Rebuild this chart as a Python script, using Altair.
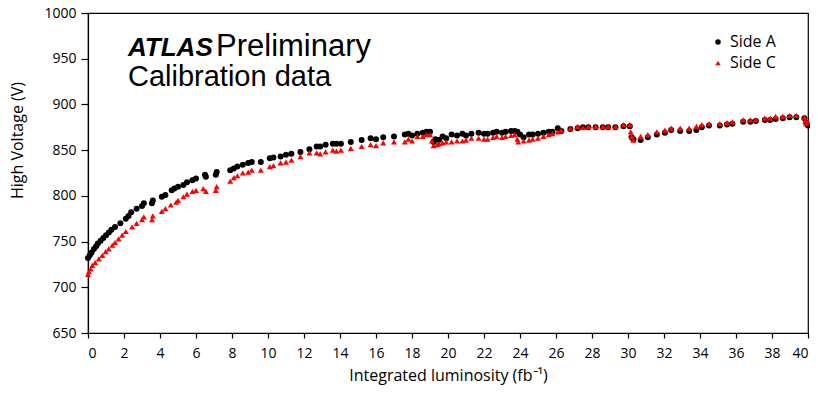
import altair as alt
import pandas as pd

# Side A (black circles)
a_x = [0.0, 0.1, 0.2, 0.33, 0.45, 0.55, 0.7, 0.85, 1.0, 1.16, 1.3, 1.5, 1.8, 2.1, 2.25, 2.4, 2.7, 3.0, 3.1, 3.55,
       3.6, 4.1, 4.3, 4.65, 4.8, 5.0, 5.3, 5.5, 5.8, 6.0, 6.5, 6.55, 7.1, 7.15, 7.9, 8.1, 8.3, 8.6, 8.9, 9.1,
       9.6, 10.1, 10.3, 10.7, 11.0, 11.3, 11.8, 12.3, 12.7, 12.9, 13.2, 13.6, 13.8, 14.05, 14.6, 15.2, 15.7, 16.0, 16.4, 17.0,
       17.6, 17.8, 18.0, 18.3, 18.6, 18.8, 19.0, 19.2, 19.3, 19.5, 19.7, 19.9, 20.2, 20.5, 20.8, 21.0, 21.3, 21.7, 22.0, 22.2,
       22.5, 22.7, 23.0, 23.2, 23.5, 23.7, 23.85, 24.0, 24.2, 24.5, 24.7, 25.0, 25.3, 25.6, 25.8, 26.1, 26.3, 26.8, 27.2, 27.5,
       27.8, 28.2, 28.6, 28.9, 29.3, 29.75, 30.1, 30.2, 30.3, 30.7, 31.1, 31.6, 32.05, 32.4, 32.9, 33.4, 33.8, 34.1, 34.5, 35.1,
       35.5, 35.8, 36.4, 36.8, 37.1, 37.6, 37.9, 38.2, 38.6, 38.98, 39.35, 39.8, 39.9, 40.0]
a_y = [732, 735, 738, 742, 745, 748, 751, 754, 757, 760, 763, 766, 770, 775, 778, 782, 786, 789, 792, 792,
       795, 799, 801, 806, 808, 810, 812, 815, 817, 819, 823, 821, 823, 826, 828, 830, 832, 834, 836, 837,
       837, 841, 842, 843, 845, 846, 848, 851, 854, 854, 856, 857, 857, 857, 859, 861, 863, 862, 864, 865,
       867, 868, 866, 868, 869, 870, 870, 859, 862, 861, 865, 863, 867, 866, 868, 866, 868, 869, 868, 868,
       869, 870, 869, 870, 871, 871, 870, 867, 864, 867, 867, 868, 869, 870, 870, 874, 871, 873, 874, 875,
       875, 875, 875, 875, 875, 876, 876, 864, 862, 861, 864, 867, 869, 872, 871, 871, 872, 875, 877, 877,
       878, 879, 881, 881, 882, 883, 883, 884, 885, 886, 886, 885, 880, 877]

# Side C (red triangles)
c_x = [0.0, 0.05, 0.15, 0.24, 0.4, 0.6, 0.8, 0.98, 1.15, 1.35, 1.5, 1.7, 1.9, 2.1, 2.45, 2.7, 3.0, 3.1, 3.56, 3.6,
       4.1, 4.3, 4.6, 4.9, 5.0, 5.3, 5.5, 5.8, 6.0, 6.4, 6.55, 7.1, 7.15, 7.9, 8.1, 8.3, 8.6, 8.9, 9.1, 9.6,
       10.1, 10.3, 10.7, 11.0, 11.3, 11.8, 12.3, 12.7, 12.9, 13.2, 13.6, 13.8, 14.05, 14.6, 15.2, 15.7, 16.0, 16.4, 17.0, 17.6,
       17.8, 18.0, 18.3, 18.6, 18.8, 19.0, 19.1, 19.2, 19.4, 19.5, 19.7, 19.9, 20.2, 20.5, 20.8, 21.0, 21.3, 21.7, 22.0, 22.2,
       22.5, 22.7, 23.0, 23.2, 23.5, 23.7, 23.85, 23.9, 24.2, 24.5, 24.7, 25.0, 25.3, 25.6, 25.8, 26.1, 26.3, 26.8, 27.2, 27.5,
       27.8, 28.2, 28.6, 28.9, 29.3, 29.75, 30.1, 30.15, 30.2, 30.3, 30.7, 31.1, 31.6, 32.05, 32.4, 32.9, 33.4, 33.8, 34.1, 34.5,
       35.1, 35.5, 35.8, 36.4, 36.8, 37.1, 37.6, 37.9, 38.2, 38.6, 38.98, 39.35, 39.8, 39.85, 39.9, 40.0]
c_y = [714, 717, 720, 724, 727, 731, 735, 739, 742, 746, 749, 753, 757, 761, 766, 770, 774, 777, 774, 778,
       783, 786, 790, 793, 795, 799, 802, 805, 806, 808, 805, 806, 810, 816, 820, 822, 825, 826, 828, 828,
       832, 833, 836, 837, 839, 843, 847, 847, 846, 848, 850, 849, 850, 852, 854, 856, 855, 858, 859, 859,
       862, 860, 865, 865, 867, 867, 860, 855, 856, 857, 858, 859, 859, 860, 860, 861, 863, 863, 862, 862,
       864, 865, 864, 865, 866, 867, 862, 859, 860, 861, 862, 863, 865, 867, 868, 870, 872, 874, 876, 875,
       876, 876, 876, 876, 876, 878, 878, 870, 865, 861, 865, 867, 870, 872, 874, 874, 874, 876, 878, 879,
       879, 880, 881, 883, 883, 883, 885, 885, 887, 887, 888, 888, 886, 882, 879, 881]

x_ticks = list(range(0, 41, 2))
y_ticks = list(range(650, 1001, 50))

df = pd.concat([
    pd.DataFrame({"lumi": a_x, "hv": a_y, "side": "Side A"}),
    pd.DataFrame({"lumi": c_x, "hv": c_y, "side": "Side C"}),
])

FONT = "Open Sans"

leg = alt.Legend(title=None, orient="none", legendX=622, legendY=21,
                 labelFont=FONT, labelFontSize=16, labelColor="black",
                 symbolSize=30, rowPadding=5, labelOffset=4, padding=0)

points = alt.Chart(df).mark_point(filled=True, opacity=1, size=36).encode(
    x=alt.X("lumi:Q", scale=alt.Scale(domain=[0, 40], nice=False),
            axis=alt.Axis(values=x_ticks, title="Integrated luminosity (fb⁻¹)",
                          grid=False, tickSize=5, labelPadding=8, labelFontSize=14,
                          titleFontSize=16, titleY=47, titleBaseline="alphabetic",
                          labelFont=FONT, titleFont=FONT, labelColor="black",
                          titleColor="black", domainColor="black", tickColor="black",
                          labelFontWeight="normal", titleFontWeight="normal")),
    y=alt.Y("hv:Q", scale=alt.Scale(domain=[650, 1000], nice=False),
            axis=alt.Axis(values=y_ticks, title="High Voltage (V)", format="d",
                          grid=False, tickSize=7, labelPadding=5, labelFontSize=14,
                          titleFontSize=16, titleX=-71, titleY=127, titleAngle=270,
                          titleAlign="center", titleBaseline="middle",
                          labelFont=FONT, titleFont=FONT, labelColor="black",
                          titleColor="black", domainColor="black", tickColor="black",
                          labelFontWeight="normal", titleFontWeight="normal")),
    color=alt.Color("side:N", scale=alt.Scale(domain=["Side A", "Side C"], range=["black", "#ff0000"]),
                    legend=leg),
    shape=alt.Shape("side:N", scale=alt.Scale(domain=["Side A", "Side C"], range=["circle", "triangle-up"]),
                    legend=leg),
)

t1 = alt.Chart().mark_text(text="ATLAS", font="Liberation Sans", fontSize=26, fontWeight="bold",
                           fontStyle="italic", align="left", baseline="alphabetic", color="black").encode(
    x=alt.value(40), y=alt.value(43))
t2 = alt.Chart().mark_text(text="Preliminary", font="Liberation Sans", fontSize=31,
                           align="left", baseline="alphabetic", color="black").encode(
    x=alt.value(128), y=alt.value(43))
t3 = alt.Chart().mark_text(text="Calibration data", font="Liberation Sans", fontSize=29,
                           align="left", baseline="alphabetic", color="black").encode(
    x=alt.value(40), y=alt.value(73))

chart = alt.layer(points, t1, t2, t3).properties(
    width=720, height=320,
    autosize=alt.AutoSizeParams(type="none"),
    padding={"left": 80, "top": 5, "right": 2, "bottom": 52},
).configure_view(stroke="black", strokeWidth=1.2).configure_axis(domainWidth=1.2, tickWidth=1.2)

chart.save("out.html", embed_options={"renderer": "svg", "actions": False})
